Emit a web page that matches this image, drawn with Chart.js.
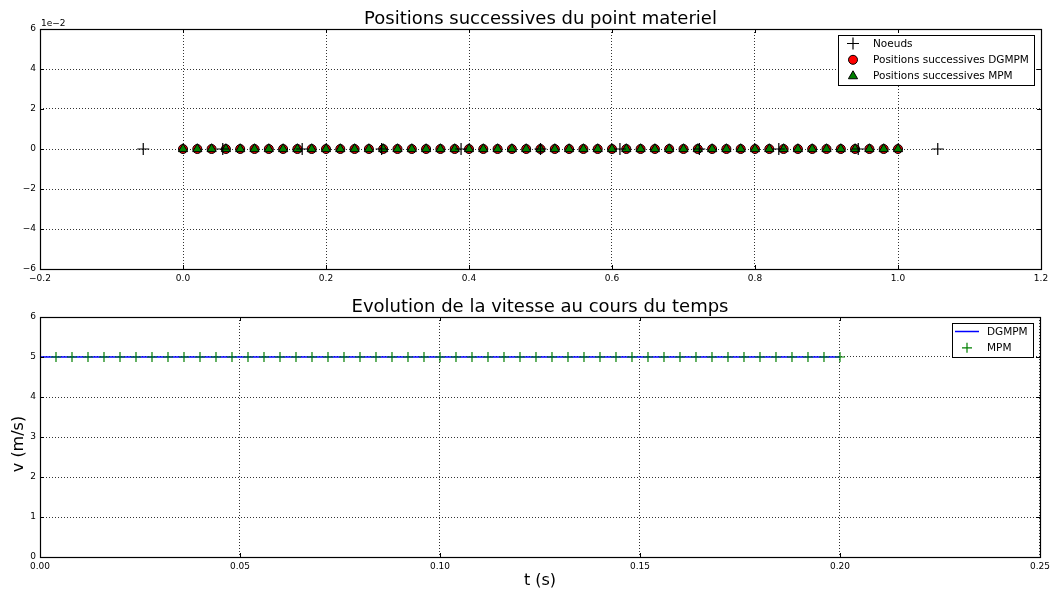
<!DOCTYPE html>
<html>
<head>
<meta charset="utf-8">
<script src="https://cdn.jsdelivr.net/npm/chart.js@4/dist/chart.umd.min.js"></script>
<style>
  html, body { margin: 0; padding: 0; background: #fff; }
  canvas { position: absolute; left: 0; }
  #topChart { top: 0; }
  #bottomChart { top: 295px; }
</style>
</head>
<body>
<canvas id="topChart" width="1054" height="295"></canvas>
<canvas id="bottomChart" width="1054" height="296"></canvas>
<script>
// --- positions (haut) ---
const positionsX = [0.00, 0.02, 0.04, 0.06, 0.08, 0.10, 0.12, 0.14, 0.16, 0.18, 0.20, 0.22, 0.24, 0.26, 0.28, 0.30, 0.32, 0.34, 0.36, 0.38, 0.40, 0.42, 0.44, 0.46, 0.48, 0.50, 0.52, 0.54, 0.56, 0.58, 0.60, 0.62, 0.64, 0.66, 0.68, 0.70, 0.72, 0.74, 0.76, 0.78, 0.80, 0.82, 0.84, 0.86, 0.88, 0.90, 0.92, 0.94, 0.96, 0.98, 1.00];
const dgmpmY = [0, 0, 0, 0, 0, 0, 0, 0, 0, 0, 0, 0, 0, 0, 0, 0, 0, 0, 0, 0, 0, 0, 0, 0, 0, 0, 0, 0, 0, 0, 0, 0, 0, 0, 0, 0, 0, 0, 0, 0, 0, 0, 0, 0, 0, 0, 0, 0, 0, 0, 0];
const mpmY = [0, 0, 0, 0, 0, 0, 0, 0, 0, 0, 0, 0, 0, 0, 0, 0, 0, 0, 0, 0, 0, 0, 0, 0, 0, 0, 0, 0, 0, 0, 0, 0, 0, 0, 0, 0, 0, 0, 0, 0, 0, 0, 0, 0, 0, 0, 0, 0, 0, 0, 0];
const nodesX = [-0.0556, 0.0556, 0.1667, 0.2778, 0.3889, 0.5, 0.6111, 0.7222, 0.8333, 0.9444, 1.0556];
const nodesY = [0, 0, 0, 0, 0, 0, 0, 0, 0, 0, 0];

// --- vitesse (bas) ---
const timeDGMPM = [0, 0.004, 0.008, 0.012, 0.016, 0.02, 0.024, 0.028, 0.032, 0.036, 0.04, 0.044, 0.048, 0.052, 0.056, 0.06, 0.064, 0.068, 0.072, 0.076, 0.08, 0.084, 0.088, 0.092, 0.096, 0.1, 0.104, 0.108, 0.112, 0.116, 0.12, 0.124, 0.128, 0.132, 0.136, 0.14, 0.144, 0.148, 0.152, 0.156, 0.16, 0.164, 0.168, 0.172, 0.176, 0.18, 0.184, 0.188, 0.192, 0.196, 0.2];
const vDGMPM = [5, 5, 5, 5, 5, 5, 5, 5, 5, 5, 5, 5, 5, 5, 5, 5, 5, 5, 5, 5, 5, 5, 5, 5, 5, 5, 5, 5, 5, 5, 5, 5, 5, 5, 5, 5, 5, 5, 5, 5, 5, 5, 5, 5, 5, 5, 5, 5, 5, 5, 5];
const timeMPM = [0.004, 0.008, 0.012, 0.016, 0.02, 0.024, 0.028, 0.032, 0.036, 0.04, 0.044, 0.048, 0.052, 0.056, 0.06, 0.064, 0.068, 0.072, 0.076, 0.08, 0.084, 0.088, 0.092, 0.096, 0.1, 0.104, 0.108, 0.112, 0.116, 0.12, 0.124, 0.128, 0.132, 0.136, 0.14, 0.144, 0.148, 0.152, 0.156, 0.16, 0.164, 0.168, 0.172, 0.176, 0.18, 0.184, 0.188, 0.192, 0.196, 0.2];
const vMPM = [5, 5, 5, 5, 5, 5, 5, 5, 5, 5, 5, 5, 5, 5, 5, 5, 5, 5, 5, 5, 5, 5, 5, 5, 5, 5, 5, 5, 5, 5, 5, 5, 5, 5, 5, 5, 5, 5, 5, 5, 5, 5, 5, 5, 5, 5, 5, 5, 5, 5];

const FONT = '"DejaVu Sans", sans-serif';
const tickFont = { family: FONT, size: 9 };
const MINUS = '\u2212';

function pts(xs, ys) {
    return xs.map((x, i) => ({ x: x, y: ys[i] }));
}
function fmt(v, d) {
    const s = Math.abs(v) < 1e-9 ? (0).toFixed(d) : v.toFixed(d);
    return s.replace('-', MINUS);
}

function axis(min, max, step, formatter, size) {
    return {
        type: 'linear', min: min, max: max,
        ticks: { stepSize: step, callback: formatter, font: tickFont, color: '#000', padding: 4, autoSkip: false, maxRotation: 0 },
        grid: { color: '#000', lineWidth: 0.8, drawTicks: false },
        border: { display: false, dash: [1, 2] },
        afterFit: size
    };
}

// cadre noir + graduations vers l'interieur (style matplotlib)
const framePlugin = {
    id: 'frame',
    afterDraw(chart) {
        const ctx = chart.ctx, a = chart.chartArea;
        ctx.save();
        ctx.strokeStyle = '#000';
        ctx.lineWidth = 1;
        ctx.beginPath();
        const xs = chart.scales.x, ys = chart.scales.y;
        xs.ticks.forEach(t => {
            const px = Math.round(xs.getPixelForValue(t.value)) + 0.5;
            ctx.moveTo(px, a.bottom); ctx.lineTo(px, a.bottom - 4);
            ctx.moveTo(px, a.top); ctx.lineTo(px, a.top + 4);
        });
        ys.ticks.forEach(t => {
            const py = Math.round(ys.getPixelForValue(t.value)) + 0.5;
            ctx.moveTo(a.left, py); ctx.lineTo(a.left + 4, py);
            ctx.moveTo(a.right, py); ctx.lineTo(a.right - 4, py);
        });
        ctx.stroke();
        ctx.lineWidth = 1.2;
        ctx.strokeRect(Math.round(a.left) + 0.5, Math.round(a.top) + 0.5, Math.round(a.right - a.left), Math.round(a.bottom - a.top));
        ctx.restore();
    }
};

function boxLegend(items) {
    return {
        id: 'boxLegend',
        afterDraw(chart) {
            const ctx = chart.ctx, a = chart.chartArea;
            ctx.save();
            ctx.font = '10.5px ' + FONT;
            const textW = Math.max(...items.map(it => ctx.measureText(it.label).width));
            const rowH = 16.3;
            const w = Math.round(35 + textW + 5), h = Math.round(items.length * rowH + 1.5);
            const left = Math.round(a.right - 7 - w), top = Math.round(a.top + 6);
            ctx.fillStyle = '#fff';
            ctx.fillRect(left, top, w, h);
            ctx.strokeStyle = '#000';
            ctx.lineWidth = 1;
            ctx.strokeRect(left + 0.5, top + 0.5, w, h);
            items.forEach((it, i) => {
                const cy = top + 8.5 + i * rowH, cx = left + 15;
                ctx.lineWidth = it.borderWidth || 1;
                ctx.strokeStyle = it.borderColor;
                ctx.fillStyle = it.fill || it.borderColor;
                if (it.style === 'line') {
                    ctx.beginPath();
                    ctx.moveTo(cx - 12, cy); ctx.lineTo(cx + 12, cy);
                    ctx.stroke();
                } else {
                    Chart.helpers.drawPoint(ctx, { pointStyle: it.style, radius: it.radius, rotation: 0, borderWidth: it.borderWidth || 1 }, cx, cy);
                }
                ctx.fillStyle = '#000';
                ctx.textBaseline = 'middle';
                ctx.textAlign = 'left';
                ctx.fillText(it.label, left + 35, cy + 0.5);
            });
            ctx.restore();
        }
    };
}

const offsetText = {
    id: 'offsetText',
    afterDraw(chart) {
        const ctx = chart.ctx, a = chart.chartArea;
        ctx.save();
        ctx.font = '9px ' + FONT;
        ctx.fillStyle = '#000';
        ctx.textBaseline = 'bottom';
        ctx.fillText('1e' + MINUS + '2', a.left + 1, a.top - 1);
        ctx.restore();
    }
};

// etiquette de l'axe y du graphe du bas (centree comme dans matplotlib)
const yLabel = {
    id: 'yLabel',
    afterDraw(chart) {
        const ctx = chart.ctx, a = chart.chartArea;
        ctx.save();
        ctx.font = '16px ' + FONT;
        ctx.fillStyle = '#000';
        ctx.textAlign = 'center';
        ctx.textBaseline = 'middle';
        ctx.translate(19, (a.top + a.bottom) / 2 + 7);
        ctx.rotate(-Math.PI / 2);
        ctx.fillText('v (m/s)', 0, 0);
        ctx.restore();
    }
};

const common = {
    responsive: false,
    animation: false,
    events: [],
    layout: { padding: { left: 0, right: 13, top: 0, bottom: 0 } }
};

new Chart(document.getElementById('topChart'), {
    type: 'scatter',
    data: {
        datasets: [
            { label: 'Noeuds', data: pts(nodesX, nodesY), pointStyle: 'cross', pointRadius: 6, borderColor: '#000', borderWidth: 1.2, order: 0 },
            { label: 'Positions successives DGMPM', data: pts(positionsX, dgmpmY), pointStyle: 'circle', pointRadius: 4.5, backgroundColor: '#ff0000', borderColor: '#000', borderWidth: 1, order: 2 },
            { label: 'Positions successives MPM', data: pts(positionsX, mpmY), pointStyle: 'triangle', pointRadius: 5.3, backgroundColor: '#008000', borderColor: '#000', borderWidth: 1, order: 1 }
        ]
    },
    options: Object.assign({}, common, {
        clip: false,
        plugins: {
            legend: { display: false },
            tooltip: { enabled: false },
            title: {
                display: true, fullSize: false, color: '#000',
                text: 'Positions successives du point materiel',
                font: { family: FONT, size: 18, weight: 'normal', lineHeight: 1 },
                padding: { top: 10, bottom: 1 }
            }
        },
        scales: {
            x: axis(-0.2, 1.2, 0.2, v => fmt(v, 1), s => { s.height = 26; }),
            y: axis(-0.06, 0.06, 0.02, v => fmt(v * 100, 0), s => { s.width = 40; })
        }
    }),
    plugins: [framePlugin, offsetText, boxLegend([
        { label: 'Noeuds', style: 'cross', radius: 6, borderColor: '#000', borderWidth: 1.2 },
        { label: 'Positions successives DGMPM', style: 'circle', radius: 4.5, borderColor: '#000', fill: '#ff0000' },
        { label: 'Positions successives MPM', style: 'triangle', radius: 5.3, borderColor: '#000', fill: '#008000' }
    ])]
});

const xBottom = axis(0, 0.25, 0.05, v => fmt(v, 2), s => { s.height = 34; });
xBottom.title = { display: true, text: 't (s)', color: '#000', font: { family: FONT, size: 16, lineHeight: 1.2 }, padding: { top: 0, bottom: 1 } };
const yBottom = axis(0, 6, 1, v => fmt(v, 0), s => { s.width = 40; });

new Chart(document.getElementById('bottomChart'), {
    type: 'scatter',
    data: {
        datasets: [
            { label: 'DGMPM', data: pts(timeDGMPM, vDGMPM), showLine: true, pointRadius: 0, borderColor: '#0000ff', borderWidth: 1.5, order: 1 },
            { label: 'MPM', data: pts(timeMPM, vMPM), pointStyle: 'cross', pointRadius: 5, borderColor: '#008000', borderWidth: 1.2, order: 0 }
        ]
    },
    options: Object.assign({}, common, {
        clip: false,
        plugins: {
            legend: { display: false },
            tooltip: { enabled: false },
            title: {
                display: true, fullSize: false, color: '#000',
                text: 'Evolution de la vitesse au cours du temps',
                font: { family: FONT, size: 18, weight: 'normal', lineHeight: 1 },
                padding: { top: 3, bottom: 1 }
            }
        },
        scales: { x: xBottom, y: yBottom }
    }),
    plugins: [framePlugin, yLabel, boxLegend([
        { label: 'DGMPM', style: 'line', borderColor: '#0000ff', borderWidth: 1.5 },
        { label: 'MPM', style: 'cross', radius: 5, borderColor: '#008000', borderWidth: 1.2 }
    ])]
});
</script>
</body>
</html>
